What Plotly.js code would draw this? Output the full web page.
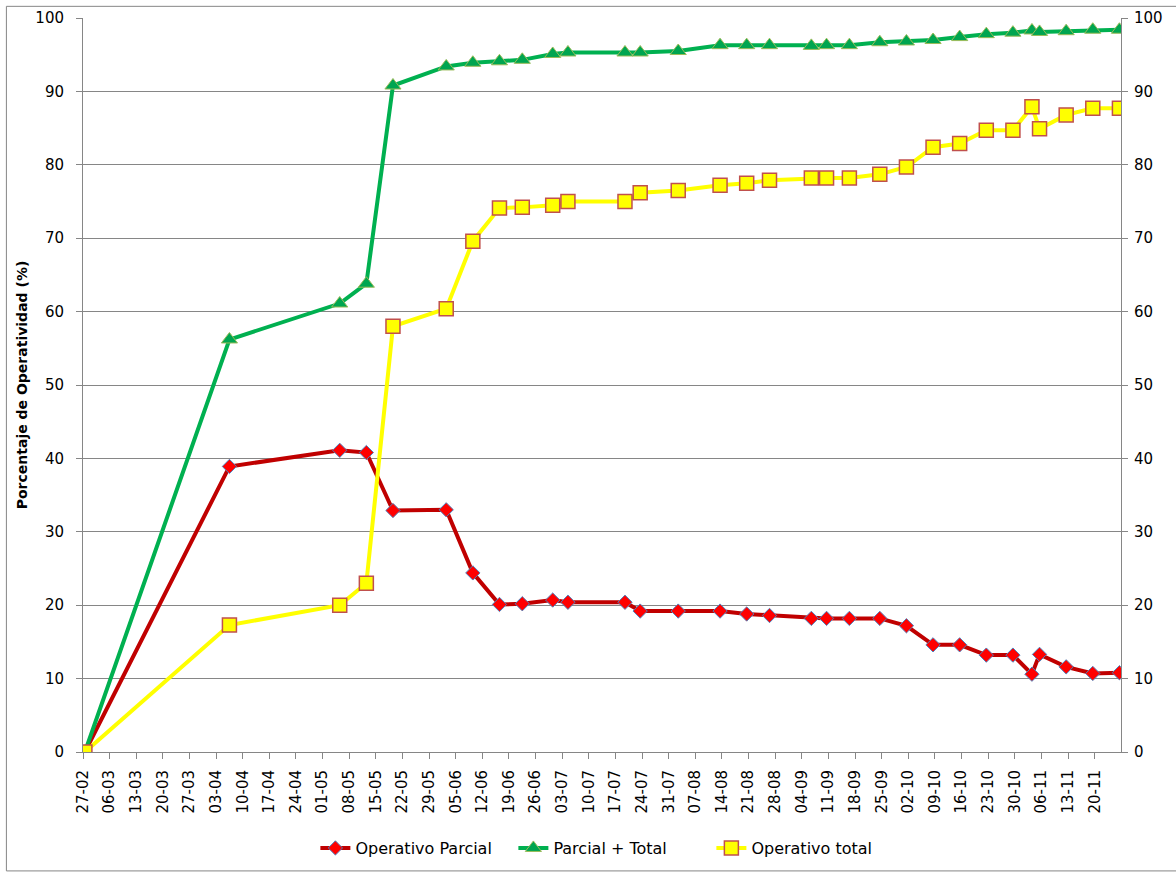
<!DOCTYPE html>
<html>
<head>
<meta charset="utf-8">
<script src="https://cdn.plot.ly/plotly-3.0.1.min.js"></script>
<style>
  html, body { margin: 0; padding: 0; background: #ffffff; }
  #chart { width: 1176px; height: 874px; }
</style>
</head>
<body>
<div id="chart"></div>
<script>
// Report dates (2010)
const dates = ['2010-02-27','2010-04-06','2010-05-05','2010-05-12','2010-05-19','2010-06-02','2010-06-09','2010-06-16','2010-06-22','2010-06-30','2010-07-04','2010-07-19','2010-07-23','2010-08-02','2010-08-13','2010-08-20','2010-08-26','2010-09-06','2010-09-10','2010-09-16','2010-09-24','2010-10-01','2010-10-08','2010-10-15','2010-10-22','2010-10-29','2010-11-03','2010-11-05','2010-11-12','2010-11-19','2010-11-26'];

// Series values (%)
const operativoParcial = [0, 38.9, 41.1, 40.8, 32.9, 33.0, 24.4, 20.1, 20.2, 20.7, 20.4, 20.4, 19.2, 19.2, 19.2, 18.8, 18.6, 18.2, 18.2, 18.2, 18.2, 17.2, 14.6, 14.6, 13.2, 13.2, 10.6, 13.3, 11.6, 10.7, 10.8];
const parcialMasTotal  = [0, 56.2, 61.1, 63.8, 90.8, 93.4, 93.9, 94.1, 94.3, 95.1, 95.3, 95.3, 95.3, 95.5, 96.3, 96.3, 96.3, 96.2, 96.3, 96.3, 96.7, 96.8, 97.0, 97.4, 97.8, 98.0, 98.3, 98.1, 98.2, 98.4, 98.4];
const operativoTotal   = [0, 17.3, 20.0, 23.0, 58.0, 60.4, 69.6, 74.1, 74.2, 74.5, 75.0, 75.0, 76.2, 76.5, 77.2, 77.5, 77.9, 78.2, 78.2, 78.2, 78.7, 79.7, 82.4, 82.9, 84.7, 84.7, 87.9, 84.9, 86.8, 87.7, 87.7];

const seriesNames = ['Operativo Parcial', 'Parcial + Total', 'Operativo total'];
const yTitle = 'Porcentaje de Operatividad (%)';

// Excel date axis centres each point within its day
const xPts = dates.map(d => d + ' 12:00');

const FONT = 'DejaVu Sans, Liberation Sans, sans-serif';

const traces = [
  {
    x: xPts, y: operativoParcial, name: seriesNames[0],
    type: 'scatter', mode: 'lines+markers',
    line: { color: '#C00000', width: 4 },
    marker: { symbol: 'diamond', size: 11, color: '#FF0000', line: { color: '#4F81BD', width: 1 } }
  },
  {
    x: xPts, y: parcialMasTotal, name: seriesNames[1],
    type: 'scatter', mode: 'lines+markers',
    line: { color: '#00B050', width: 4 },
    marker: { symbol: 'triangle-up', size: 14, color: '#00A550', line: { color: '#9BBB59', width: 1 } }
  },
  {
    x: xPts, y: operativoTotal, name: seriesNames[2],
    type: 'scatter', mode: 'lines+markers',
    line: { color: '#FFFF00', width: 4 },
    marker: { symbol: 'square', size: 14, color: '#FFFF00', line: { color: '#C0504D', width: 1.5 } }
  },
  // empty trace so the secondary (right) axis is drawn
  { x: [], y: [], yaxis: 'y2', type: 'scatter', mode: 'lines', showlegend: false, hoverinfo: 'skip' }
];

const layout = {
  width: 1176, height: 874,
  margin: { l: 83, r: 55, t: 18, b: 122, pad: 0 },
  paper_bgcolor: '#ffffff', plot_bgcolor: '#ffffff',
  font: { family: FONT, size: 15, color: '#000000' },
  showlegend: true,
  legend: {
    orientation: 'h', x: 0.51, xanchor: 'center',
    yref: 'container', y: 0.0297, yanchor: 'middle',
    font: { family: FONT, size: 16, color: '#000000' },
    entrywidth: 153, entrywidthmode: 'pixels',
    bgcolor: 'rgba(0,0,0,0)'
  },
  xaxis: {
    type: 'date', automargin: false,
    range: ['2010-02-27', '2010-11-26 22:00'],
    tick0: '2010-02-27', dtick: 7 * 86400000,
    tickformat: '%d-%m', tickangle: -90,
    ticks: 'outside', ticklen: 6, tickcolor: '#868686', tickwidth: 1,
    ticklabelstandoff: 5,
    showline: true, linecolor: '#868686', linewidth: 1,
    showgrid: false, zeroline: false,
    tickfont: { family: FONT, size: 15, color: '#000000' }
  },
  yaxis: {
    range: [0, 100], dtick: 10, tick0: 0, automargin: false,
    ticks: 'outside', ticklen: 6, tickcolor: '#868686',
    ticklabelstandoff: 9,
    showline: true, linecolor: '#868686', linewidth: 1,
    showgrid: true, gridcolor: '#868686', gridwidth: 1,
    zeroline: false,
    tickfont: { family: FONT, size: 15, color: '#000000' },
    title: { text: yTitle, font: { family: FONT, size: 14, color: '#000000', weight: 'bold' }, standoff: 4 }
  },
  yaxis2: {
    overlaying: 'y', side: 'right', automargin: false,
    range: [0, 100], dtick: 10, tick0: 0,
    ticks: 'outside', ticklen: 6, tickcolor: '#868686',
    ticklabelstandoff: 3,
    showline: true, linecolor: '#868686', linewidth: 1,
    showgrid: false, zeroline: false,
    tickfont: { family: FONT, size: 15, color: '#000000' }
  },
  shapes: [
    { type: 'rect', xref: 'paper', yref: 'paper', x0: -0.0738, x1: 1.06, y0: -0.162, y1: 1.0159,
      line: { color: '#868686', width: 1 }, fillcolor: 'rgba(0,0,0,0)', layer: 'below' }
  ]
};

Plotly.newPlot('chart', traces, layout, { staticPlot: true, displayModeBar: false });
</script>
</body>
</html>
